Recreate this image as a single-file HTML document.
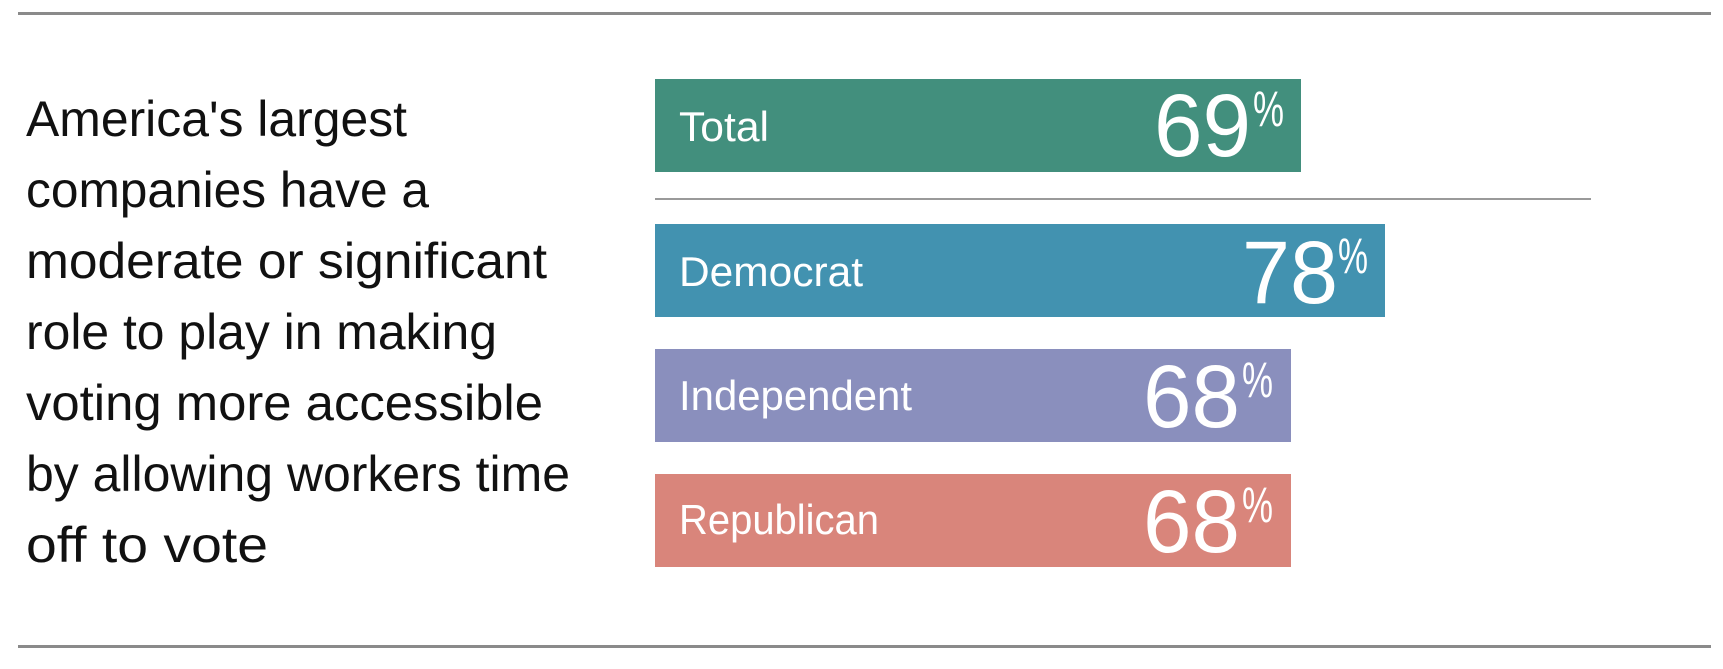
<!DOCTYPE html>
<html><head><meta charset="utf-8"><style>html,body{margin:0;padding:0;background:#fff}svg{display:block}</style></head><body>
<svg width="1723" height="669" viewBox="0 0 1723 669" xmlns="http://www.w3.org/2000/svg" font-family="Liberation Sans, sans-serif">
<rect x="18" y="12" width="1693" height="3" fill="#8a8a8a"/>
<rect x="18" y="645" width="1693" height="3" fill="#8a8a8a"/>
<g fill="#111" font-size="50" lengthAdjust="spacingAndGlyphs">
<text x="26" y="136" textLength="381" lengthAdjust="spacingAndGlyphs">America's largest</text>
<text x="26" y="207" textLength="403" lengthAdjust="spacingAndGlyphs">companies have a</text>
<text x="26" y="278" textLength="521" lengthAdjust="spacingAndGlyphs">moderate or significant</text>
<text x="26" y="349" textLength="471" lengthAdjust="spacingAndGlyphs">role to play in making</text>
<text x="26" y="420" textLength="517" lengthAdjust="spacingAndGlyphs">voting more accessible</text>
<text x="26" y="491" textLength="544" lengthAdjust="spacingAndGlyphs">by allowing workers time</text>
<text x="26" y="562" textLength="242" lengthAdjust="spacingAndGlyphs">off to vote</text>
</g>
<rect x="655" y="79" width="646" height="93" fill="#428f7d"/>
<rect x="655" y="198" width="936" height="2" fill="#9a9a9a"/>
<rect x="655" y="224" width="730" height="93" fill="#4292b0"/>
<rect x="655" y="349" width="636" height="93" fill="#8a8fbd"/>
<rect x="655" y="474" width="636" height="93" fill="#d9857b"/>
<g fill="#fff">
<text x="679" y="141" font-size="42" textLength="90" lengthAdjust="spacingAndGlyphs">Total</text>
<text x="679" y="286" font-size="42" textLength="184" lengthAdjust="spacingAndGlyphs">Democrat</text>
<text x="679" y="410" font-size="42" textLength="233" lengthAdjust="spacingAndGlyphs">Independent</text>
<text x="679" y="534" font-size="42" textLength="200" lengthAdjust="spacingAndGlyphs">Republican</text>
<text x="1154" y="156" font-size="89" textLength="97" lengthAdjust="spacingAndGlyphs">69</text>
<text x="1253" y="126" font-size="50" textLength="31" lengthAdjust="spacingAndGlyphs">%</text>
<text x="1242" y="303" font-size="89" textLength="96" lengthAdjust="spacingAndGlyphs">78</text>
<text x="1338" y="273" font-size="50" textLength="30" lengthAdjust="spacingAndGlyphs">%</text>
<text x="1143" y="427" font-size="89" textLength="97" lengthAdjust="spacingAndGlyphs">68</text>
<text x="1242" y="397" font-size="50" textLength="31" lengthAdjust="spacingAndGlyphs">%</text>
<text x="1143" y="552" font-size="89" textLength="97" lengthAdjust="spacingAndGlyphs">68</text>
<text x="1242" y="522" font-size="50" textLength="31" lengthAdjust="spacingAndGlyphs">%</text>
</g>
</svg>
</body></html>
